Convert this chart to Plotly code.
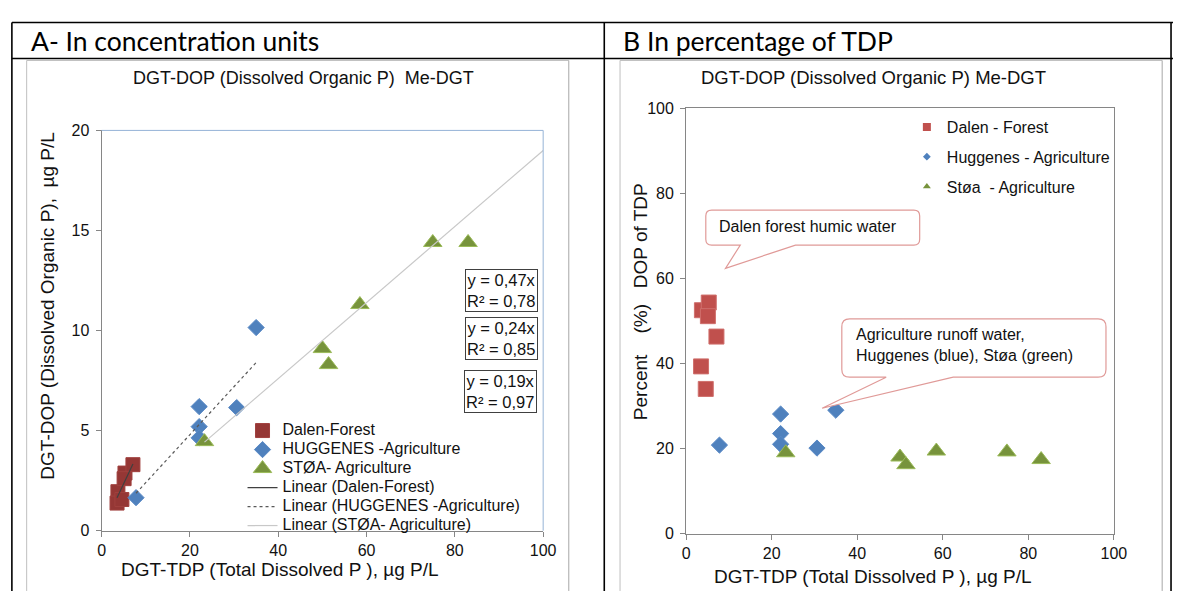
import plotly.graph_objects as go

W, H = 1186, 598

# ---------------- data ----------------
dalen_tdp = [3.7, 5.3, 5.1, 7.1, 3.5, 4.6]
dalen_dop = [1.95, 2.88, 2.6, 3.3, 1.38, 1.56]
dalen_pct = [52.5, 54.3, 51.1, 46.3, 39.3, 34.0]

hugg_tdp = [7.8, 22.1, 22.1, 22.1, 30.6, 35.0]
hugg_dop = [1.65, 6.2, 5.2, 4.64, 6.15, 10.15]
hugg_pct = [20.8, 28.1, 23.5, 21.0, 20.1, 29.0]

stoa_tdp = [23.3, 50.0, 51.4, 58.5, 75.0, 83.0]
stoa_dop = [4.45, 9.1, 8.3, 11.3, 14.4, 14.4]
stoa_pct = [19.0, 18.0, 16.2, 19.4, 19.2, 17.4]

names_a = ["Dalen-Forest", "HUGGENES -Agriculture", "STØA- Agriculture"]
names_b = ["Dalen - Forest", "Huggenes - Agriculture", "Støa  - Agriculture"]

trend_names = ["Linear (Dalen-Forest)", "Linear (HUGGENES -Agriculture)",
               "Linear (STØA- Agriculture)"]
trend_slope = [0.47, 0.24, 0.19]
trend_r2 = [0.78, 0.85, 0.97]
trend_x = [[3.5, 7.1], [7.8, 35.0], [23.3, 100.0]]

x_ticks = [0, 20, 40, 60, 80, 100]
ya_ticks = [0, 5, 10, 15, 20]
yb_ticks = [0, 20, 40, 60, 80, 100]

# ---------------- helpers ----------------
def px(x):
    return x / W

def py(y):
    return 1 - y / H

FONT = "Liberation Sans, Arial, sans-serif"
TXT = "#111111"
AX = "#868686"
RED_A = "#953735"
RED_B = "#C0504D"
BLUE = "#4F81BD"
GREEN = "#77933C"
GREEN_E = "#9BBB59"

fig = go.Figure()

# ---------------- panel A ----------------
def big(t):
    return '<span style="font-size:16px">' + t + '</span>'

fig.add_trace(go.Scatter(x=dalen_tdp, y=dalen_dop, mode="markers", name=big(names_a[0]),
                         marker=dict(symbol="square", size=14, color=RED_A,
                                     line=dict(color="#A0413E", width=1)),
                         xaxis="x", yaxis="y", legend="legend"))
fig.add_trace(go.Scatter(x=hugg_tdp, y=hugg_dop, mode="markers", name=big(names_a[1]),
                         marker=dict(symbol="diamond", size=12.5, color=BLUE,
                                     line=dict(color="#5A8AC6", width=1)),
                         xaxis="x", yaxis="y", legend="legend"))
fig.add_trace(go.Scatter(x=stoa_tdp, y=stoa_dop, mode="markers", name=big(names_a[2]),
                         marker=dict(symbol="triangle-up", size=16, color=GREEN,
                                     line=dict(color=GREEN_E, width=1)),
                         xaxis="x", yaxis="y", legend="legend"))

trend_styles = [dict(color="#404040", width=1.2, dash="solid"),
                dict(color="#595959", width=1.2, dash="dot"),
                dict(color="#C8C8C8", width=1.2, dash="solid")]
for nm, s, xr, st in zip(trend_names, trend_slope, trend_x, trend_styles):
    fig.add_trace(go.Scatter(x=xr, y=[s * v for v in xr], mode="lines", name=big(nm),
                             line=st, xaxis="x", yaxis="y", legend="legend"))

# ---------------- panel B ----------------
fig.add_trace(go.Scatter(x=dalen_tdp, y=dalen_pct, mode="markers", showlegend=False,
                         marker=dict(symbol="square", size=15, color=RED_B,
                                     line=dict(color="#CF6F6C", width=1)),
                         xaxis="x2", yaxis="y2"))
fig.add_trace(go.Scatter(x=hugg_tdp, y=hugg_pct, mode="markers", showlegend=False,
                         marker=dict(symbol="diamond", size=12.5, color=BLUE,
                                     line=dict(color="#5A8AC6", width=1)),
                         xaxis="x2", yaxis="y2"))
fig.add_trace(go.Scatter(x=stoa_tdp, y=stoa_pct, mode="markers", showlegend=False,
                         marker=dict(symbol="triangle-up", size=16, color=GREEN,
                                     line=dict(color=GREEN_E, width=1)),
                         xaxis="x2", yaxis="y2"))
# legend entries for panel B (small symbols, as in the original)
leg_b = [("square", 8, RED_B), ("diamond", 6, BLUE), ("triangle-up", 7, GREEN)]
for i, (nm, (sym, sz, col)) in enumerate(zip(names_b, leg_b)):
    fig.add_trace(go.Scatter(x=[None], y=[None], mode="markers", name=nm,
                             marker=dict(symbol=sym, size=sz, color=col),
                             xaxis="x2", yaxis="y2", legend="legend2",
                             legendgroup="g%d" % i))

# ---------------- axes ----------------
axis_common = dict(showgrid=False, zeroline=False, showline=True, linecolor=AX,
                   linewidth=1, ticks="outside", ticklen=5, tickcolor=AX,
                   tickfont=dict(family=FONT, size=16, color=TXT))
fig.update_layout(
    xaxis=dict(domain=[px(99), px(547)], range=[0, 100], tickvals=x_ticks,
               anchor="y", **axis_common),
    yaxis=dict(domain=[py(538), py(126)], range=[0, 20], tickvals=ya_ticks,
               anchor="x", ticklabelstandoff=3, **axis_common),
    xaxis2=dict(domain=[px(692), px(1126)], range=[0, 100], tickvals=x_ticks,
                anchor="y2", mirror=True, **axis_common),
    yaxis2=dict(domain=[py(541), py(103)], range=[0, 100], tickvals=yb_ticks,
                anchor="x2", mirror=True, ticklabelstandoff=3, **axis_common),
)

# ---------------- legends ----------------
fig.update_layout(
    legend=dict(x=px(242), y=py(420), xanchor="left", yanchor="top",
                bgcolor="rgba(0,0,0,0)", borderwidth=0,
                font=dict(family=FONT, size=12, color=TXT)),
    legend2=dict(x=px(916), y=py(105), xanchor="left", yanchor="top",
                 bgcolor="rgba(0,0,0,0)", borderwidth=0, traceorder="grouped",
                 tracegroupgap=6, font=dict(family=FONT, size=16, color=TXT)),
)

# ---------------- shapes: table, chart frames, borders, callouts ----------------
shapes = []
def line(x0, y0, x1, y1, color, width, dash="solid"):
    shapes.append(dict(type="line", xref="paper", yref="paper",
                       x0=px(x0), y0=py(y0), x1=px(x1), y1=py(y1),
                       line=dict(color=color, width=width, dash=dash)))

# chart outer frames (light gray)
line(23, 54, 23, 600, "#BFBFBF", 1)
line(23, 54, 573, 54, "#BFBFBF", 1)
line(573, 54, 573, 600, "#A6A6A6", 1)
line(625, 54, 625, 600, "#BFBFBF", 1)
line(625, 54, 1175, 54, "#BFBFBF", 1)
line(1175, 54, 1175, 600, "#A6A6A6", 1)

# table lines (black)
line(8, 15, 1186, 15, "#000000", 1.6)
line(8, 52, 1186, 52, "#000000", 1.6)
line(8, 15, 8, 600, "#000000", 1.6)
line(609, 15, 609, 600, "#000000", 1.6)
line(1184, 15, 1184, 600, "#000000", 1.6)

# light-blue top and right border of plot area A
for (x0, y0, x1, y1) in [(0, 1, 1, 1), (1, 0, 1, 1)]:
    shapes.append(dict(type="line", xref="x domain", yref="y domain",
                       x0=x0, y0=y0, x1=x1, y1=y1,
                       line=dict(color="#95B3D7", width=1)))

def callout(x0, y0, x1, y1, r, b_left, b_right, tip):
    P = lambda x, y: "%.5f,%.5f" % (px(x), py(y))
    d = ("M " + P(x0 + r, y0) + " L " + P(x1 - r, y0) +
         " Q " + P(x1, y0) + " " + P(x1, y0 + r) +
         " L " + P(x1, y1 - r) + " Q " + P(x1, y1) + " " + P(x1 - r, y1) +
         " L " + P(b_right, y1) + " L " + P(tip[0], tip[1]) + " L " + P(b_left, y1) +
         " L " + P(x0 + r, y1) + " Q " + P(x0, y1) + " " + P(x0, y1 - r) +
         " L " + P(x0, y0 + r) + " Q " + P(x0, y0) + " " + P(x0 + r, y0) + " Z")
    shapes.append(dict(type="path", xref="paper", yref="paper", path=d,
                       fillcolor="white", line=dict(color="#E09A98", width=1.2)))

callout(712, 208, 929, 244, 6, 747, 803, (732, 268))
callout(850, 320, 1118, 380, 8, 895, 963, (830, 412))

fig.update_layout(shapes=shapes)

# ---------------- annotations ----------------
ann = []
def text(x, y, t, size, family=FONT, xanchor="center", yanchor="middle",
         angle=0, align="center", color=TXT, **kw):
    ann.append(dict(x=px(x), y=py(y), xref="paper", yref="paper", text=t,
                    showarrow=False, xanchor=xanchor, yanchor=yanchor,
                    textangle=angle, align=align,
                    font=dict(family=family, size=size, color=color), **kw))

# table headers
text(25, 34, "A- In concentration units", 26.5, family="Lato, Carlito, sans-serif",
     xanchor="left", color="#000000")
text(626, 34, "B In percentage of TDP", 26.5, family="Lato, Carlito, sans-serif",
     xanchor="left", color="#000000")

# chart titles
text(304, 72, "DGT-DOP (Dissolved Organic P)\u00a0\u00a0Me-DGT", 18)
text(882, 72, "DGT-DOP (Dissolved Organic P) Me-DGT", 18.5)

# axis titles
text(280, 578, "DGT-TDP (Total Dissolved P ), µg P/L", 19)
text(44, 307, "DGT-DOP (Dissolved Organic P),\u00a0\u00a0µg P/L", 19, angle=-90)
text(882, 585, "DGT-TDP (Total Dissolved P ), µg P/L", 19)
text(646, 302, "Percent\u00a0\u00a0\u00a0\u00a0(%)\u00a0\u00a0\u00a0DOP of TDP", 19, angle=-90)

# trendline equation boxes
eq_pos = [(505, 291), (505, 340), (503.5, 394.5)]
for (ex, ey), s, r2 in zip(eq_pos, trend_slope, trend_r2):
    t = "y = %sx<br>R² = %s" % (("%.2f" % s).replace(".", ","), ("%.2f" % r2).replace(".", ","))
    text(ex, ey, t, 16.5, bordercolor="#404040", borderwidth=1, borderpad=1,
         bgcolor="white")

# callout texts
text(723, 225, "Dalen forest humic water", 16, xanchor="left", align="left")
text(862, 347, "Agriculture runoff water,<br>Huggenes (blue), Støa (green)", 16,
     xanchor="left", align="left")

fig.update_layout(annotations=ann)

fig.update_layout(width=W, height=H, margin=dict(l=0, r=0, t=0, b=0),
                  paper_bgcolor="white", plot_bgcolor="white", showlegend=True)

fig.write_html("out.html")
